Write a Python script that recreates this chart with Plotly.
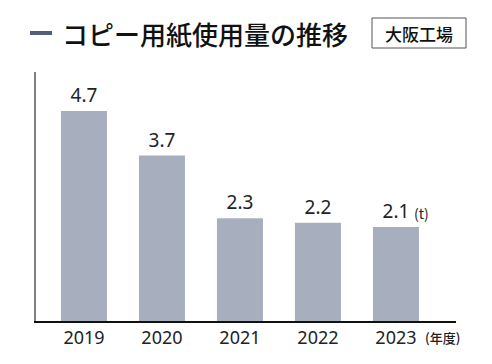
import plotly.graph_objects as go

years = ["2019", "2020", "2021", "2022", "2023"]
values = [4.7, 3.7, 2.3, 2.2, 2.1]
labels = ["4.7", "3.7", "2.3", "2.2", "2.1"]

title = "コピー用紙使用量の推移"
site = "大阪工場"
unit = "(t)"
year_unit = "(年度)"

bar_color = "#a7afbf"
font_num = "Noto Sans, DejaVu Sans, sans-serif"
font_jp = "Noto Sans CJK JP, sans-serif"

fig = go.Figure(go.Bar(
    x=list(range(len(years))), y=values,
    marker=dict(color=bar_color, line=dict(width=0)),
    text=labels, textposition="outside", cliponaxis=False,
    textfont=dict(size=19, color="#222", family=font_num),
    hoverinfo="skip",
))

fig.update_layout(
    width=492, height=364,
    margin=dict(l=36, r=36, t=72, b=43),
    paper_bgcolor="white", plot_bgcolor="white",
    showlegend=False, bargap=0.41,
    xaxis=dict(range=[-0.615, 4.77], tickmode="array",
               tickvals=list(range(len(years))), ticktext=years,
               showline=True, linecolor="#111", linewidth=1.5,
               showgrid=False, zeroline=False, ticks="",
               tickfont=dict(size=18, color="#222", family=font_num)),
    yaxis=dict(range=[0, 5.57], showline=True, linecolor="#808080", linewidth=2,
               showgrid=False, zeroline=False, showticklabels=False, ticks=""),
)

pw = 492 - 72
ph = 364 - 115
def px(x):
    return (x - 36) / pw
def py(y):
    return (321 - y) / ph

fig.add_annotation(x=4, y=values[-1], xref="x", yref="y", text=unit, showarrow=False,
                   xshift=26, yshift=14, font=dict(size=14, color="#222", family=font_jp))
fig.add_annotation(x=px(462), y=py(337), xref="paper", yref="paper", xanchor="right",
                   yanchor="middle", text=year_unit, showarrow=False,
                   font=dict(size=13, color="#222", family=font_jp, weight=500))
fig.add_annotation(x=px(60), y=py(33), xref="paper", yref="paper", xanchor="left",
                   yanchor="middle", text=title, showarrow=False,
                   font=dict(size=26, color="#111", family=font_jp, weight=500))
fig.add_shape(type="rect", xref="paper", yref="paper",
              x0=px(372), x1=px(466), y0=py(18), y1=py(48),
              line=dict(color="#555", width=1), fillcolor="white")
fig.add_annotation(x=px(419), y=py(33), xref="paper", yref="paper", xanchor="center",
                   yanchor="middle", text=site, showarrow=False,
                   font=dict(size=17, color="#111", family=font_jp, weight=500))

fig.add_shape(type="line", xref="paper", yref="paper",
              x0=px(30), x1=px(52), y0=py(33), y1=py(33),
              line=dict(color="#4f5d7e", width=4))

fig.write_html("out.html", post_script="document.body.style.margin='0';",
               config={"displayModeBar": False})
